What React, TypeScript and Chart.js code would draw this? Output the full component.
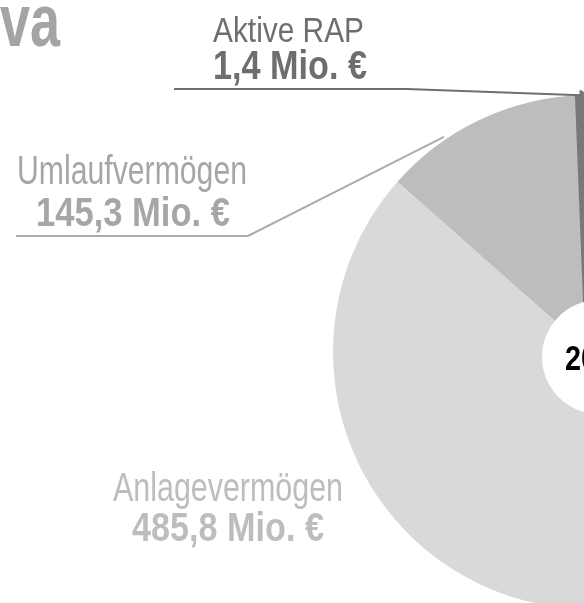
import React, { useEffect, useRef } from "react";
import { Chart, registerables } from "chart.js";

Chart.register(...registerables);

// ---- data ----
const categories = ["Anlagevermögen", "Umlaufvermögen", "Aktive RAP"];
const values = [485.8, 145.3, 1.4];
const valueLabels = ["485,8 Mio. €", "145,3 Mio. €", "1,4 Mio. €"];
const sliceColors = ["#d9d9d9", "#bdbdbd", "#787878"];
const titleText = "Aktiva";
const centerText = "2020";

// ---- layout ----
const W = 584;
const H = 603;
const CENTER_X = 590;
const CENTER_Y = 352;
const RADIUS = 257;
const FONT = '"Liberation Sans", Arial, sans-serif';

function drawText(
  ctx: CanvasRenderingContext2D,
  text: string,
  x: number,
  y: number,
  size: number,
  bold: boolean,
  color: string,
  width: number,
  align: CanvasTextAlign = "left"
) {
  ctx.font = `${bold ? "bold " : ""}${size}px ${FONT}`;
  ctx.fillStyle = color;
  ctx.textAlign = align;
  ctx.textBaseline = "alphabetic";
  ctx.fillText(text, x, y, width);
}

export default function App() {
  const ref = useRef<HTMLCanvasElement>(null);

  useEffect(() => {
    const canvas = ref.current!;
    const labelPlugin = {
      id: "labelPlugin",
      afterDatasetsDraw(chart: any) {
        const ctx: CanvasRenderingContext2D = chart.ctx;
        const arcs = chart.getDatasetMeta(0).data as any[];
        if (!arcs.length) return;
        const cx = arcs[0].x;
        const cy = arcs[0].y;
        const R = arcs[0].outerRadius;
        ctx.save();
        ctx.lineCap = "butt";

        // white centre disc with the year
        ctx.fillStyle = "#ffffff";
        ctx.beginPath();
        ctx.arc(cx + 9, cy + 5, 57, 0, Math.PI * 2);
        ctx.fill();

        // leader line: Aktive RAP
        const rap = arcs[2];
        const am = (rap.startAngle + rap.endAngle) / 2;
        ctx.strokeStyle = "#6e6e6e";
        ctx.lineWidth = 2;
        ctx.beginPath();
        ctx.moveTo(174, 89);
        ctx.lineTo(407, 89);
        ctx.lineTo(cx + Math.cos(am) * R, cy + Math.sin(am) * R);
        ctx.stroke();
        // leader line: Umlaufvermögen
        const um = arcs[1];
        const au = um.startAngle + 0.31 * (um.endAngle - um.startAngle);
        ctx.strokeStyle = "#acacac";
        ctx.beginPath();
        ctx.moveTo(16, 236);
        ctx.lineTo(248, 236);
        ctx.lineTo(cx + Math.cos(au) * (R + 3), cy + Math.sin(au) * (R + 3));
        ctx.stroke();

        // texts
        drawText(ctx, titleText, 60, 46, 74, true, "#a4a4a4", 162, "right");
        drawText(ctx, categories[2], 213, 42, 35, false, "#6e6e6e", 151);
        drawText(ctx, valueLabels[2], 213, 79, 40, true, "#6e6e6e", 154);
        drawText(ctx, categories[1], 17, 184, 40, false, "#a6a6a6", 230);
        drawText(ctx, valueLabels[1], 36, 226, 41, true, "#a6a6a6", 194);
        drawText(ctx, categories[0], 113, 501, 40, false, "#bdbdbd", 230);
        drawText(ctx, valueLabels[0], 132, 541, 41, true, "#bdbdbd", 192);
        drawText(ctx, centerText, 565, 370, 35, true, "#000000", 64);
        ctx.restore();
      },
    };

    const chart = new Chart(canvas, {
      type: "doughnut",
      data: {
        labels: categories,
        datasets: [
          {
            data: values,
            backgroundColor: sliceColors,
            borderWidth: [0, 0, 10],
            borderColor: ["#ffffff", "#ffffff", "#787878"],
            borderAlign: "center",
            clip: false,
          } as any,
        ],
      },
      options: {
        responsive: false,
        animation: false,
        radius: RADIUS,
        cutout: 0,
        rotation: 156.8,
        circumference: 201.4,
        layout: { padding: 0 },
        events: [],
        plugins: {
          legend: { display: false },
          tooltip: { enabled: false },
        },
      } as any,
      plugins: [labelPlugin],
    });

    const arc: any = chart.getDatasetMeta(0).data[0];
    const dx = CENTER_X - arc.x;
    const dy = CENTER_Y - arc.y;
    (chart.options as any).layout.padding = {
      left: Math.max(0, 2 * dx),
      right: Math.max(0, -2 * dx),
      top: Math.max(0, 2 * dy),
      bottom: Math.max(0, -2 * dy),
    };
    chart.update();

    return () => chart.destroy();
  }, []);

  return (
    <div
      style={{
        position: "absolute",
        left: 0,
        top: 0,
        width: W,
        height: H,
        overflow: "hidden",
        background: "#ffffff",
      }}
    >
      <canvas ref={ref} width={W} height={H} style={{ width: W, height: H, display: "block" }} />
    </div>
  );
}
